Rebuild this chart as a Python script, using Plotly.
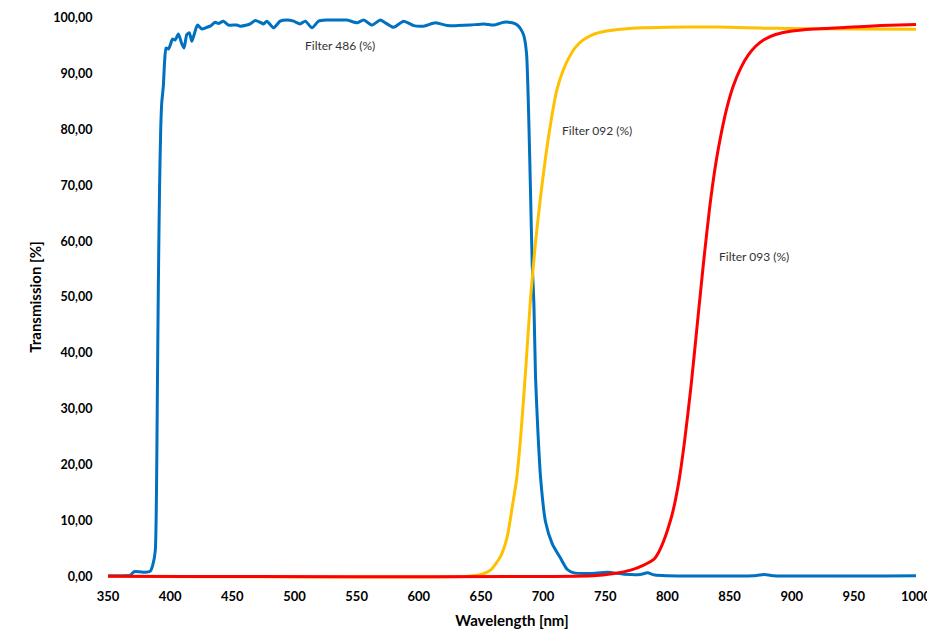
import plotly.graph_objects as go

# Filter 486 (%)
wl_486 = [350, 360, 368, 371, 375, 380, 384, 386, 388, 389, 389.6, 390.5, 391.5, 392.4, 393.2, 394.5,
          395.5, 396.7, 398.6, 400.5, 401.8, 404, 406.6, 409.3, 411.2, 413.4, 415.5, 417.4, 419.3, 422,
          425.5, 429.5, 432.2, 436.2, 438.9, 442.9, 446.9, 453.7, 456.3, 461.7, 464.4, 468.4, 472.4, 475.1,
          477.8, 483.2, 488.5, 493.9, 499.3, 504.6, 508.7, 514.1, 519.4, 526.2, 534.2, 542.3, 550.3, 555.7,
          562.4, 569.1, 573.1, 579.8, 587.8, 595.9, 603.9, 613.4, 622.8, 630.9, 641.6, 652.3, 660.4, 668.4,
          675.2, 679.2, 682, 684.5, 686.7, 688.5, 689.9, 691.3, 692.6, 693.9, 695.8, 698, 702, 707.4,
          714.1, 719.5, 724.8, 738, 752, 765, 778, 784, 790, 800, 870, 878, 885, 1000]
tr_486 = [0.1, 0.1, 0.2, 0.8, 0.8, 0.7, 0.9, 2.0, 4.5, 15, 30, 52, 70, 80, 84.7, 87.7,
          92, 94.6, 94.4, 95.4, 96.2, 96.0, 97.1, 95.4, 94.6, 97.0, 97.3, 95.8, 97.0, 98.7,
          98.0, 98.3, 98.5, 99.2, 99.0, 99.4, 98.7, 98.7, 98.5, 98.7, 98.9, 99.5, 99.2, 98.9,
          99.4, 98.2, 99.4, 99.6, 99.4, 98.9, 99.4, 98.2, 99.4, 99.6, 99.6, 99.6, 99.1, 99.6,
          98.7, 99.6, 99.1, 98.3, 99.4, 98.6, 98.5, 99.1, 98.6, 98.6, 98.7, 98.9, 98.7, 99.2,
          99.1, 98.7, 98.0, 96.8, 93.6, 81.8, 68.7, 55.6, 49, 35.9, 26.1, 17.6, 9.7, 5.8,
          3.2, 1.2, 0.6, 0.5, 0.7, 0.35, 0.3, 0.6, 0.2, 0.1, 0.1, 0.3, 0.1, 0.1]

# Filter 092 (%)
wl_092 = [350, 640, 650, 657.7, 665.7, 671.1, 675.2, 678.6, 682, 686, 690, 694, 698, 702, 706, 711,
          716, 720, 726, 732, 740, 750, 765, 780, 800, 830, 850, 875, 900, 950, 1000]
tr_092 = [0, 0, 0.3, 1.1, 3.5, 7, 12.4, 17.2, 25, 37, 50, 60, 68, 75, 81, 87,
          90.5, 92.5, 94.7, 96, 97, 97.6, 98.0, 98.2, 98.3, 98.35, 98.3, 98.15, 98.1, 98.0, 97.95]

# Filter 093 (%)
wl_093 = [350, 740, 757, 770.5, 781, 789, 793, 797, 800, 804, 809.4, 814, 819, 824, 829, 834, 839,
          843.5, 848, 853, 859, 865, 871, 878, 887, 899, 918, 945, 972, 1000]
tr_093 = [0, 0.1, 0.5, 1.1, 2.0, 3.0, 4.3, 6.3, 8.2, 11.2, 17.2, 24.5, 34, 45, 56, 66, 74,
          79.5, 84, 87.8, 91, 93.3, 94.9, 96.1, 97.0, 97.6, 98.0, 98.3, 98.6, 98.8]

series = [
    ("Filter 486 (%)", wl_486, tr_486, "#0070C0"),
    ("Filter 092 (%)", wl_092, tr_092, "#FFC000"),
    ("Filter 093 (%)", wl_093, tr_093, "#FF0000"),
]

# label anchor positions (wavelength, transmission)
label_pos = {
    "Filter 486 (%)": (537, 95.0),
    "Filter 092 (%)": (743.5, 79.9),
    "Filter 093 (%)": (869.5, 57.2),
}

FONT = "Lato"

fig = go.Figure()
for name, x, y, c in series:
    fig.add_trace(go.Scatter(x=x, y=y, mode="lines", name=name,
                             line=dict(color=c, width=3, shape="spline", smoothing=0.6),
                             showlegend=False))

for name, (lx, ly) in label_pos.items():
    fig.add_annotation(x=lx, y=ly, text=name, showarrow=False,
                       font=dict(family=FONT, size=12, color="#333333"))

fig.update_layout(
    width=935, height=631,
    margin=dict(l=100, r=27, t=7, b=60, autoexpand=False),
    paper_bgcolor="white", plot_bgcolor="white",
    separators=", ",
    font=dict(family=FONT, color="#000000"),
    xaxis=dict(range=[350, 1000], tickmode="linear", tick0=350, dtick=50, tickformat="d",
               automargin=False,
               showgrid=False, zeroline=False, showline=False,
               ticks="outside", ticklen=5, tickcolor="rgba(0,0,0,0)",
               tickfont=dict(family=FONT, size=13, color="#000000", weight="bold"),
               title=dict(text="Wavelength [nm]", standoff=12,
                          font=dict(family=FONT, size=15, color="#000000", weight="bold"))),
    yaxis=dict(range=[-0.5, 100.5], tickmode="linear", tick0=0, dtick=10, tickformat=".2f",
               automargin=False,
               showgrid=False, zeroline=False, showline=False,
               ticks="outside", ticklen=12, tickcolor="rgba(0,0,0,0)",
               tickfont=dict(family=FONT, size=12.5, color="#000000", weight="bold"),
               title=dict(text="Transmission [%]", standoff=8,
                          font=dict(family=FONT, size=15, color="#000000", weight="bold"))),
)

fig.write_html("out.html")
